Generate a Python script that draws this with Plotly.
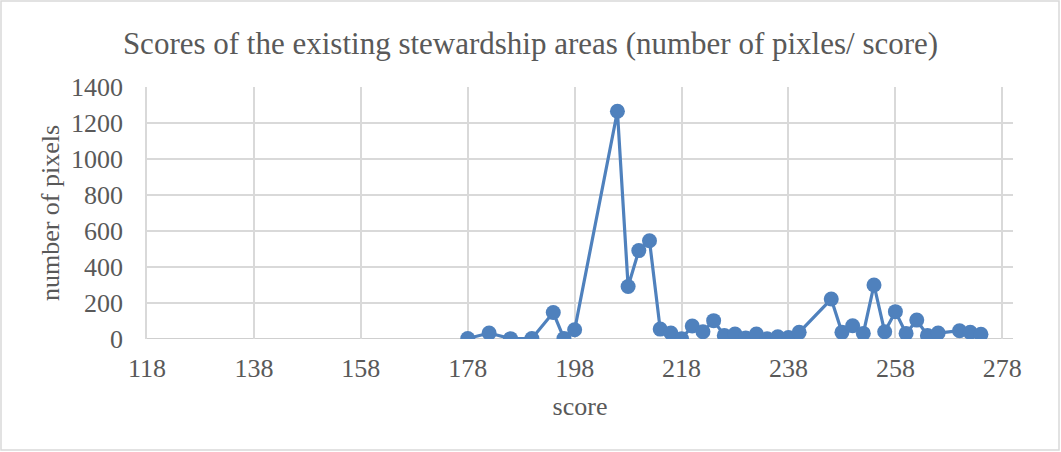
import plotly.graph_objects as go

# Score values and pixel counts per score
scores = [178, 182, 186, 190, 194, 196, 198, 206, 208, 210, 212, 214, 216, 218,
          220, 222, 224, 226, 228, 230, 232, 234, 236, 238, 240, 246, 248, 250,
          252, 254, 256, 258, 260, 262, 264, 266, 270, 272, 274]
pixels = [3, 33, 2, 3, 147, 3, 51, 1265, 292, 491, 546, 55, 33, 1,
          72, 40, 102, 20, 28, 6, 28, 2, 12, 8, 37, 222, 37, 74,
          31, 300, 40, 152, 31, 105, 20, 33, 46, 37, 26]

x_ticks = [118, 138, 158, 178, 198, 218, 238, 258, 278]
y_ticks = [0, 200, 400, 600, 800, 1000, 1200, 1400]

W, H = 1061, 452
ML, MR, MT, MB = 147, 48, 87, 113
pw, ph = W - ML - MR, H - MT - MB

blue = "#4F81BD"
grid = "#D9D9D9"
txt = "#595959"
font_family = "Liberation Serif, Cambria, serif"

fig = go.Figure(go.Scatter(
    x=scores, y=pixels, mode="lines+markers",
    line=dict(color=blue, width=3.2),
    marker=dict(color=blue, size=15),
    showlegend=False,
))

fig.update_layout(
    width=W, height=H,
    margin=dict(l=ML, r=MR, t=MT, b=MB),
    paper_bgcolor="white", plot_bgcolor="white",
    font=dict(family=font_family, color=txt, size=26),
    title=dict(
        text="Scores of the existing stewardship areas (number of pixles/ score)",
        x=0.5, xanchor="center", y=1 - 43 / H, yanchor="middle",
        font=dict(size=31, color=txt, family=font_family),
    ),
    xaxis=dict(
        range=[118, 280], tickmode="array", tickvals=x_ticks,
        ticktext=[str(v) for v in x_ticks],
        showgrid=True, gridcolor=grid, gridwidth=1.5,
        zeroline=False, showline=False, ticks="",
        ticklabelstandoff=11,
        title=dict(text="score", standoff=14, font=dict(size=26, color=txt)),
        tickfont=dict(size=26, color=txt),
    ),
    yaxis=dict(
        range=[0, 1400], tickmode="array", tickvals=y_ticks,
        showgrid=True, gridcolor=grid, gridwidth=1.5,
        zeroline=False, showline=True, linecolor=grid, linewidth=1.5,
        ticks="", ticklabelstandoff=17,
        title=dict(text="number of pixels", standoff=4, font=dict(size=26, color=txt)),
        tickfont=dict(size=26, color=txt),
    ),
    shapes=[
        # darker baseline along zero
        dict(type="line", xref="paper", yref="y", x0=0, x1=1, y0=0, y1=0,
             line=dict(color="#BFBFBF", width=1.5), layer="below"),
        # outer chart border
        dict(type="rect", xref="paper", yref="paper",
             x0=(1 - ML) / pw, x1=(W - 2 - ML) / pw,
             y0=-(H - 2 - MT - ph) / ph, y1=1 + (MT - 1) / ph,
             line=dict(color="#D9D9D9", width=1.5), fillcolor="rgba(0,0,0,0)"),
    ],
)

fig.write_html("out.html")
